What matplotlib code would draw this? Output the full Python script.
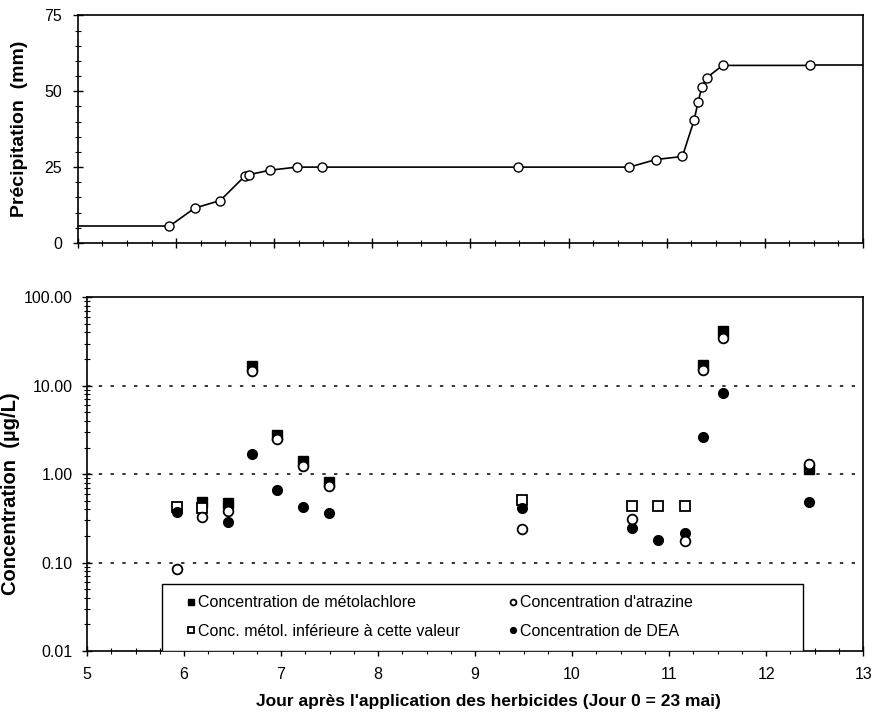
import numpy as np
import matplotlib
matplotlib.use("Agg")
import matplotlib.pyplot as plt
from matplotlib.patches import Rectangle
from matplotlib.ticker import MultipleLocator, FixedLocator, FormatStrFormatter, LogLocator, NullFormatter

plt.rcParams['font.family'] = ['Liberation Sans', 'DejaVu Sans']

# precipitation cumulee
jours_pluie = [5.93, 6.19, 6.45, 6.70, 6.74, 6.96, 7.23, 7.49, 9.48, 10.62, 10.89,
               11.16, 11.28, 11.32, 11.36, 11.41, 11.57, 12.46]
pluie = [5.5, 11.5, 14.0, 22.0, 22.5, 24.0, 25.0, 25.0, 25.0, 25.0, 27.5,
         28.5, 40.5, 46.5, 51.5, 54.5, 58.5, 58.5]

# concentrations (ug/L), nan = pas de point
nan = np.nan
jours_conc = [5.93, 6.19, 6.45, 6.70, 6.96, 7.23, 7.49, 9.48, 10.62, 10.89, 11.16, 11.35, 11.56, 12.44]
metolachlore = [nan, 0.48, 0.47, 16.5, 2.8, 1.41, 0.81, nan, nan, nan, nan, 17.1, 41.3, 1.13]
metol_inf = [0.43, 0.41, nan, nan, nan, nan, nan, 0.51, 0.435, 0.435, 0.435, nan, nan, nan]
atrazine = [0.084, 0.33, 0.385, 14.7, 2.47, 1.25, 0.73, 0.24, 0.31, nan, 0.175, 14.9, 34.7, 1.29]
dea = [0.375, nan, 0.284, 1.71, 0.67, 0.43, 0.365, 0.41, 0.247, 0.18, 0.217, 2.64, 8.3, 0.49]

xmin, xmax = 5, 13

fig = plt.figure(figsize=(8.79, 7.16), dpi=100)
ax1 = fig.add_axes([0.0887, 0.6606, 0.893, 0.318])
ax2 = fig.add_axes([0.099, 0.0908, 0.883, 0.494])

# --- haut : precipitation
ax1.plot([xmin, jours_pluie[0]], [pluie[0], pluie[0]], color="k", lw=1.2)
ax1.plot([jours_pluie[-1], xmax], [pluie[-1], pluie[-1]], color="k", lw=1.2)
ax1.plot(jours_pluie, pluie, color="k", lw=1.2, marker="o", ms=6.5,
         mfc="white", mec="k", mew=1.0)
ax1.set_xlim(xmin, xmax)
ax1.set_ylim(0, 75)
ax1.xaxis.set_major_locator(MultipleLocator(1))
ax1.xaxis.set_minor_locator(MultipleLocator(0.25))
ax1.yaxis.set_major_locator(MultipleLocator(25))
ax1.yaxis.set_minor_locator(MultipleLocator(5))
ax1.set_xticklabels([])
ax1.set_ylabel("Précipitation  (mm)", fontsize=14, fontweight="bold", labelpad=12)

# --- bas : concentrations
ax2.set_yscale("log")
for v in [0.1, 1, 10]:
    ax2.axhline(v, color="k", lw=1.1, linestyle=(0, (2.2, 5.5)), zorder=1)
ax2.plot(jours_conc, metolachlore, ls="none", marker="s", ms=7, mfc="k", mec="k",
         label="Concentration de métolachlore", zorder=3)
ax2.plot(jours_conc, metol_inf, ls="none", marker="s", ms=7, mfc="white", mec="k", mew=1.3,
         label="Conc. métol. inférieure à cette valeur", zorder=4)
ax2.plot(jours_conc, atrazine, ls="none", marker="o", ms=7, mfc="white", mec="k", mew=1.3,
         label="Concentration d'atrazine", zorder=6)
ax2.plot(jours_conc, dea, ls="none", marker="o", ms=7, mfc="k", mec="k",
         label="Concentration de DEA", zorder=5)
ax2.set_xlim(xmin, xmax)
ax2.set_ylim(0.01, 100)
ax2.xaxis.set_major_locator(MultipleLocator(1))
ax2.xaxis.set_minor_locator(MultipleLocator(0.25))
ax2.yaxis.set_major_locator(FixedLocator([0.01, 0.1, 1, 10, 100]))
ax2.yaxis.set_major_formatter(FormatStrFormatter("%.2f"))
ax2.yaxis.set_minor_locator(LogLocator(base=10, subs=np.arange(2, 10)))
ax2.yaxis.set_minor_formatter(NullFormatter())
ax2.set_xlabel("Jour après l'application des herbicides (Jour 0 = 23 mai)",
               fontsize=12.5, fontweight="bold")
ax2.xaxis.set_label_coords(0.517, -0.122)
ax2.set_ylabel("Concentration  (µg/L)", fontsize=14.5, fontweight="bold")
ax2.yaxis.set_label_coords(-0.086, 0.445)

# cadre de la legende
ax2.add_patch(Rectangle((0.0967, 0.0), 0.826, 0.189, transform=ax2.transAxes,
                        facecolor="white", edgecolor="k", lw=1.0, zorder=7))
h, l = ax2.get_legend_handles_labels()
leg = ax2.legend(h, l, ncol=2, loc="center left", bbox_to_anchor=(0.128, 0.096),
                 borderaxespad=0, borderpad=0, fontsize=11.5, frameon=False,
                 handletextpad=0.15, handlelength=0.6, markerscale=0.6,
                 labelspacing=0.85, columnspacing=3.0)
leg.set_zorder(8)

for ax in (ax1, ax2):
    for s in ax.spines.values():
        s.set_linewidth(1.2)
    ax.tick_params(which="major", direction="inout", length=7, width=1, labelsize=11.5, colors="k")
    ax.tick_params(which="minor", direction="inout", length=5, width=0.8)
ax1.tick_params(axis="y", which="major", pad=8)
ax2.tick_params(axis="y", which="major", pad=7)
ax2.tick_params(axis="x", which="major", pad=8)

fig.savefig("out.png", dpi=100)
